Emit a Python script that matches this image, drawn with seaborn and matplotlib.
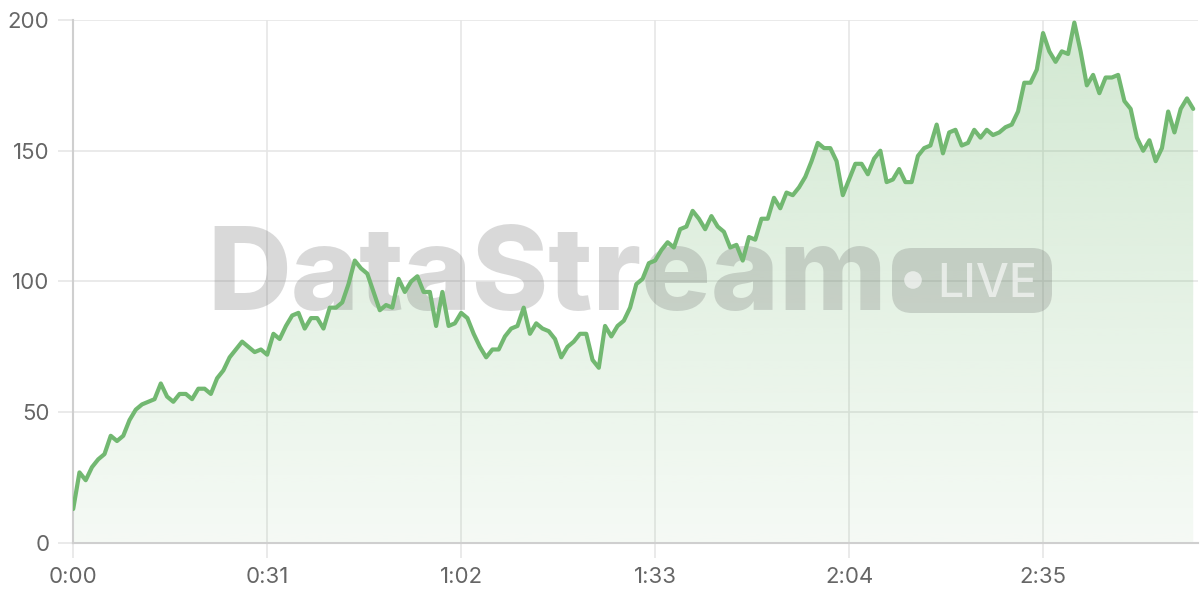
import numpy as np
import pandas as pd
import matplotlib
matplotlib.use("Agg")
import matplotlib.pyplot as plt
import seaborn as sns
from matplotlib.patches import FancyBboxPatch, Circle

# dados (um ponto por segundo)
valores = [
    13, 27, 24, 29, 32, 34, 41, 39, 41, 47, 51, 53, 54, 55, 61, 56, 54, 57, 57, 55,
    59, 59, 57, 63, 66, 71, 74, 77, 75, 73, 74,
    72, 80, 78, 83, 87, 88, 82, 86, 86, 82, 90, 90, 92, 99, 108, 105, 103, 96, 89,
    91, 90, 101, 96, 100, 102, 96, 96, 83, 96, 83,
    84, 88, 86, 80, 75, 71, 74, 74, 79, 82, 83, 90, 80, 84, 82, 81, 78, 71, 75,
    77, 80, 80, 70, 67, 83, 79, 83, 85, 90, 99,
    101, 107, 108, 112, 115, 113, 120, 121, 127, 124, 120, 125, 121, 119, 113, 114, 108, 117, 116,
    124, 124, 132, 128, 134, 133, 136, 140, 146, 153,
    151, 151, 146, 133, 139, 145, 145, 141, 147, 150, 138, 139, 143, 138, 138, 148, 151, 152, 160,
    149, 157, 158, 152, 153, 158, 155, 158, 156, 157,
    159, 160, 165, 176, 176, 181, 195, 188, 184, 188, 187, 199, 188, 175, 179, 172, 178, 178, 179,
    169, 166, 155, 150, 154, 146, 151, 165, 157, 166, 170, 166,
]
segundos = np.arange(len(valores))
ticks_x = [0, 31, 62, 93, 124, 155]
rotulos_x = ["0:00", "0:31", "1:02", "1:33", "2:04", "2:35"]
ticks_y = [0, 50, 100, 150, 200]

df = pd.DataFrame({"t": segundos, "valor": valores})

sns.set_theme(style="white")
plt.rcParams["font.family"] = ["Inter", "DejaVu Sans"]

verde = "#72b871"
cinza_texto = "#666666"
cinza_grade = "#e6e6e6"

fig = plt.figure(figsize=(12, 6), dpi=100)
ax = fig.add_axes([0.061, 0.095, 0.937, 0.8717])

# preenchimento em degrade recortado pela area da serie
area = ax.fill_between(df["t"], df["valor"], 0, color="none", linewidth=0)
grad = np.zeros((256, 1, 4))
grad[:, 0, 0:3] = matplotlib.colors.to_rgb(verde)
grad[:, 0, 3] = np.linspace(0.07, 0.32, 256)
img = ax.imshow(grad, extent=[0, len(valores) - 1, 0, 200], origin="lower",
                aspect="auto", zorder=1, interpolation="bilinear")
img.set_clip_path(area.get_paths()[0], transform=ax.transData)

# marca d'agua
ax.text(0.119, 0.4455, "DataStream", transform=ax.transAxes, fontsize=83.5,
        fontweight=800, color="#646464", alpha=0.24, zorder=2,
        ha="left", va="baseline")
selo = FancyBboxPatch((8.92, 2.87), 1.60, 0.65, boxstyle="round,pad=0,rounding_size=0.2",
                      transform=fig.dpi_scale_trans, facecolor="#646464", alpha=0.24,
                      edgecolor="none", zorder=2)
ax.add_patch(selo)
ponto = Circle((9.13, 3.20), 0.088, transform=fig.dpi_scale_trans, facecolor="white",
               alpha=0.6, edgecolor="none", zorder=2)
ax.add_patch(ponto)
fig.text(937 / 1200, 303 / 600, "LIVE", fontsize=33.5, fontweight=500,
         color="white", alpha=0.6, ha="left", va="baseline", zorder=5)

sns.lineplot(data=df, x="t", y="valor", color=verde, linewidth=3, ax=ax, zorder=3)

ax.set_xlim(0, 179.7)
ax.set_ylim(0, 200)
ax.set_xticks(ticks_x)
ax.set_xticklabels(rotulos_x)
ax.set_yticks(ticks_y)
ax.set_xlabel("")
ax.set_ylabel("")
ax.grid(True, color=cinza_grade, linewidth=1.2)
ax.set_axisbelow(True)
ax.tick_params(axis="both", length=11, width=1.2, color=cinza_grade,
               labelsize=16, labelcolor=cinza_texto, pad=6, left=True, bottom=True)
for lado in ["top", "right"]:
    ax.spines[lado].set_visible(False)
for lado in ["left", "bottom"]:
    ax.spines[lado].set_color("#cfcfcf")
    ax.spines[lado].set_linewidth(1.5)

fig.savefig("out.png", dpi=100, facecolor="white")
